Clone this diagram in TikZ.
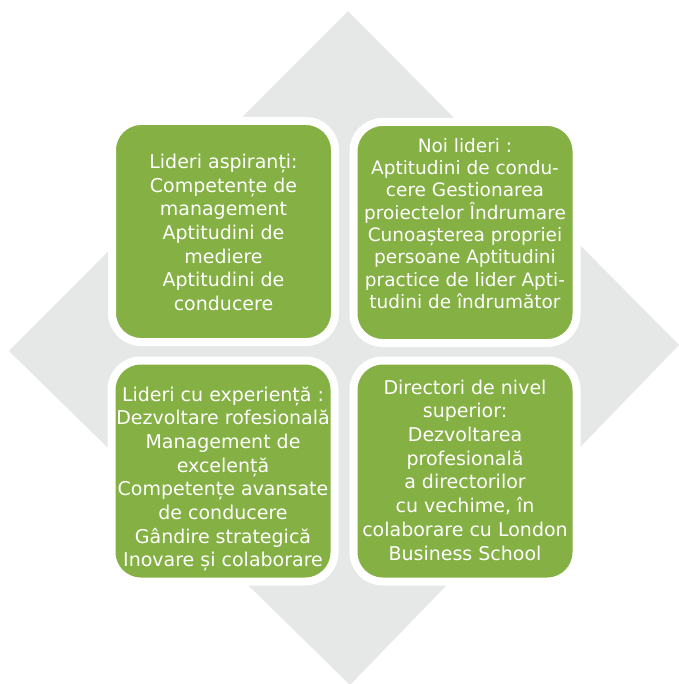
\documentclass[tikz,border=0pt]{standalone}
\usepackage{fontspec}
\newfontfamily\boxfont{DejaVu Sans}
\definecolor{leafgreen}{RGB}{132,176,68}
\definecolor{diamondgrey}{RGB}{230,231,231}
\begin{document}
\begin{tikzpicture}[x=1pt,y=-1pt,
  tile/.style={fill=leafgreen,draw=white,line width=8pt,rounded corners=29pt,
    minimum width=223pt,minimum height=221pt,inner sep=0pt},
  tiletext/.style={text=white,align=center,inner sep=0pt,
    font=\boxfont\fontsize{19}{23.7}\selectfont},
  tiletextsmall/.style={tiletext,font=\boxfont\fontsize{18.5}{22.3}\selectfont}]
\useasboundingbox (0,0) rectangle (678,684);
% background diamond
\fill[diamondgrey] (348,11) -- (679,345) -- (350,685) -- (9,351) -- cycle;
% four tiles
\node[tile] (tl) at (223.5,231.5) {};
\node[tile] (tr) at (465,232.5) {};
\node[tile] (bl) at (223,471) {};
\node[tile] (br) at (465,471) {};
% tile texts
\node[tiletext] (tltext) at ([yshift=-1pt]tl.center) {Lideri aspiranți:\\Competențe de\\management\\Aptitudini de\\mediere\\Aptitudini de\\conducere};
\node[tiletextsmall] (trtext) at ([yshift=9pt]tr.center) {Noi lideri :\\Aptitudini de condu-\\cere Gestionarea\\proiectelor Îndrumare\\Cunoașterea propriei\\persoane Aptitudini\\practice de lider Apti-\\tudini de îndrumător};
\node[tiletext] (bltext) at ([yshift=-8pt]bl.center) {Lideri cu experiență :\\Dezvoltare rofesională\\Management de\\excelență\\Competențe avansate\\de conducere\\Gândire strategică\\Inovare și colaborare};
\node[tiletext] (brtext) at ([yshift=1pt]br.center) {Directori de nivel\\superior:\\Dezvoltarea\\profesională\\a directorilor\\cu vechime, în\\colaborare cu London\\Business School};
\end{tikzpicture}
\end{document}
